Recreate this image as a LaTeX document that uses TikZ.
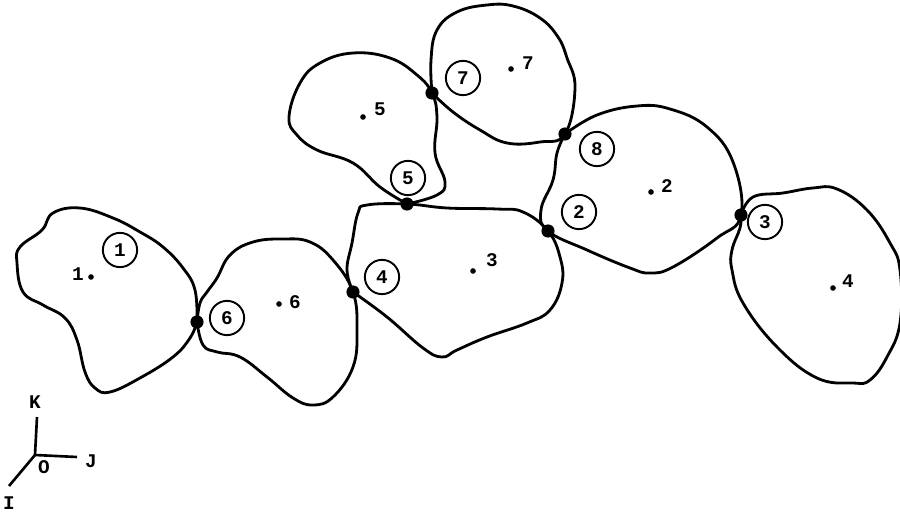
\documentclass[tikz,border=0pt]{standalone}
\usepackage{fontspec}
\setmainfont{Liberation Mono}
\usepackage{tikz}
\usetikzlibrary{positioning}

\begin{document}
\begin{tikzpicture}[
  x=0.02cm, y=-0.02cm,
  every node/.style={font=\bfseries\fontsize{11}{13}\selectfont},
  body/.style={line width=1.6pt, line join=round},
  joint/.style={circle,fill=black,inner sep=0pt,minimum size=7.5pt},
  centre/.style={circle,fill=black,inner sep=0pt,minimum size=3.2pt},
  num/.style={circle,draw,line width=1.1pt,inner sep=0pt,minimum size=19.5pt},
  axis/.style={line width=1.5pt},
]
  \useasboundingbox (0,0) rectangle (900,513);

  \coordinate (A6) at (197,322);
  \coordinate (A4) at (353,292);
  \coordinate (A5) at (407,204);
  \coordinate (A7) at (432,93);
  \coordinate (A8) at (565,134);
  \coordinate (A2) at (548,231);
  \coordinate (A3) at (741,215);

  % bodies
  \draw[body] plot[smooth,tension=.7] coordinates {(A6) (195,290) (183,268) (163,247) (140,232) (113,218) (80,208) (53,213) (42,230) (20,247) (17,263) (23,292) (43,305) (65,318) (77,340) (85,372) (95,388) (110,392) (140,378) (173,357) (190,338) (A6)};
  \draw[body] plot[smooth,tension=.7] coordinates {(A6) (200,303) (207,292) (217,278) (230,255) (253,242) (283,239) (310,242) (333,260) (A4) (357,330) (353,367) (333,397) (313,405) (293,398) (267,377) (240,357) (217,352) (203,345) (A6)};
  \draw[body] plot[smooth,tension=.7] coordinates {(A4) (347,270) (352,243) (358,213) (367,205) (A5) (447,208) (497,209) (523,212) (A2) (560,257) (562,283) (550,310) (527,323) (487,337) (457,350) (442,357) (423,348) (387,317) (A4)};
  \draw[body] plot[smooth,tension=.7] coordinates {(A5) (380,187) (353,163) (317,150) (297,135) (289,117) (300,83) (320,63) (353,53) (390,58) (417,75) (A7) (437,117) (435,153) (445,182) (437,195) (A5)};
  \draw[body] plot[smooth,tension=.7] coordinates {(A7) (431,60) (437,30) (457,12) (487,5) (513,6) (540,18) (558,37) (567,58) (575,88) (A8) (540,142) (507,143) (480,130) (453,112) (A7)};
  \draw[body] plot[smooth,tension=.7] coordinates {(A8) (597,115) (637,106) (670,109) (707,127) (733,162) (A3) (717,238) (673,267) (650,273) (630,268) (587,250) (A2) (541,210) (553,180) (557,153) (A8)};
  \draw[body] plot[smooth,tension=.7] coordinates {(A3) (753,197) (783,193) (813,188) (837,189) (867,210) (890,243) (900,270) (900,323) (887,357) (870,380) (853,383) (817,378) (777,347) (743,303) (732,270) (732,250) (740,228) (A3)};

  \foreach \name in {A2,A3,A4,A5,A6,A7,A8}
    \node[joint] (J\name) at (\name) {};

  % centres of mass
  \node[centre] (C1) at (91,277) {};
  \node[centre] (C2) at (651,192) {};
  \node[centre] (C3) at (473,271) {};
  \node[centre] (C4) at (833,288) {};
  \node[centre] (C5) at (363,117) {};
  \node[centre] (C6) at (279,304) {};
  \node[centre] (C7) at (511,69) {};

  \node (L1) at (78,274) {1};
  \node (L2) at (667,186) {2};
  \node (L3) at (492,260) {3};
  \node (L4) at (848,281) {4};
  \node (L5) at (380,109) {5};
  \node (L6) at (295,302) {6};
  \node (L7) at (528,63) {7};

  \node[num] (N1) at (120,250) {1};
  \node[num] (N2) at (579,212) {2};
  \node[num] (N3) at (765,222) {3};
  \node[num] (N4) at (382,277) {4};
  \node[num] (N5) at (408,178) {5};
  \node[num] (N6) at (227,318) {6};
  \node[num] (N7) at (463,78) {7};
  \node[num] (N8) at (597,149) {8};

  % axes
  \coordinate (O) at (35,455);
  \coordinate (K) at (37,417);
  \coordinate (J) at (77,457);
  \coordinate (I) at (9,486);
  \draw[axis] (O) -- (K);
  \draw[axis] (O) -- (J);
  \draw[axis] (O) -- (I);
  \node (LK) at (35,402) {K};
  \node (LJ) at (91,461) {J};
  \node (LI) at (9,503) {I};
  \node (LO) at (44,467) {O};
\end{tikzpicture}
\end{document}
